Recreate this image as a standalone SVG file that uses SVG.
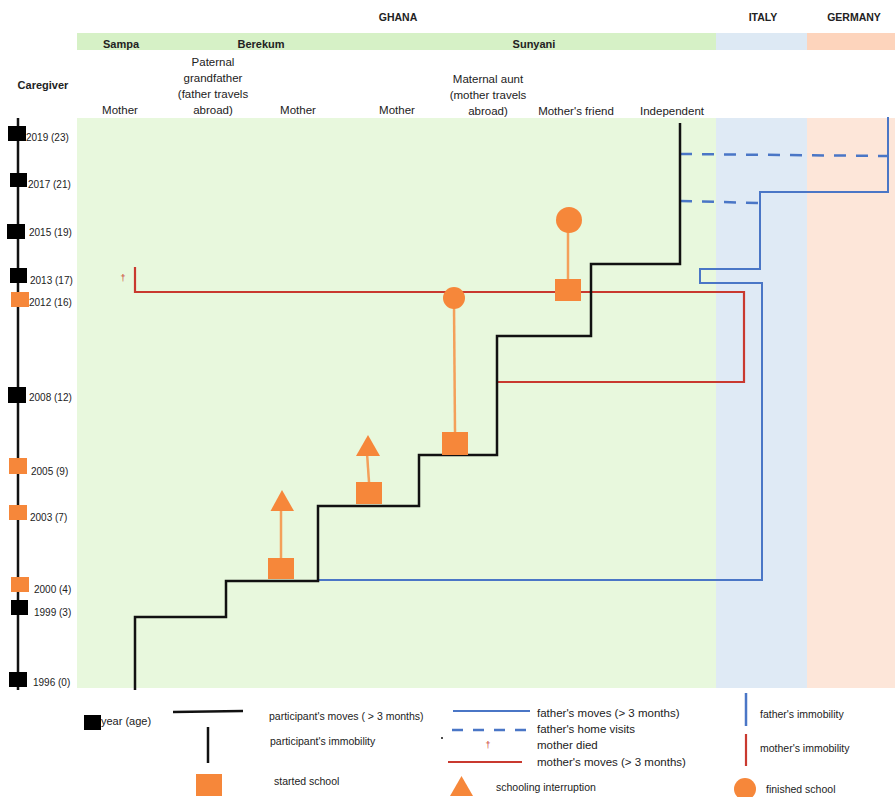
<svg xmlns="http://www.w3.org/2000/svg" width="895" height="797" viewBox="0 0 895 797">
<style>
text{font-family:"Liberation Sans",Arial,sans-serif;fill:#222}
.h{font-weight:bold;font-size:10.5px}
.cg{font-size:11.5px;text-anchor:middle}
.yr{font-size:10px}
.lg{font-size:10.5px}
.lg2{font-size:11.5px}
.blk{fill:#000}
.org{fill:#f6873a}
.oline{stroke:#f4a05a;stroke-width:2.5;fill:none}
.part{stroke:#111;stroke-width:2.5;fill:none;stroke-linejoin:miter}
.fat{stroke:#4a76c6;stroke-width:2;fill:none}
.fatd{stroke:#4a76c6;stroke-width:2.5;fill:none;stroke-dasharray:12 10}
.mot{stroke:#c9392f;stroke-width:2.2;fill:none}
.dag{fill:#c9392f;font-size:9px;text-anchor:middle}
</style>
<!-- backgrounds -->
<g id="backgrounds">
<rect x="77" y="33" width="639" height="17" fill="#d6f1c6"/>
<rect x="716" y="33" width="91" height="17" fill="#dde9f4"/>
<rect x="807" y="33" width="88" height="17" fill="#fdd4bc"/>
<rect x="77" y="118" width="639" height="570" fill="#e8f8dd"/>
<rect x="716" y="118" width="91" height="570" fill="#dfeaf5"/>
<rect x="807" y="118" width="88" height="570" fill="#fde6d9"/>
</g>
<g id="headers">
<text class="h" x="398" y="21" text-anchor="middle">GHANA</text>
<text class="h" x="763" y="21" text-anchor="middle">ITALY</text>
<text class="h" x="854" y="21" text-anchor="middle">GERMANY</text>
<text class="h" x="121" y="48" text-anchor="middle" style="font-size:11px">Sampa</text>
<text class="h" x="261" y="48" text-anchor="middle" style="font-size:11px">Berekum</text>
<text class="h" x="534" y="48" text-anchor="middle" style="font-size:11px">Sunyani</text>
<text class="h" x="43" y="89" text-anchor="middle" style="font-size:11px">Caregiver</text>
</g>
<g id="caregivers">
<text class="cg" x="120" y="114">Mother</text>
<text class="cg" x="213" y="66">Paternal</text>
<text class="cg" x="213" y="82">grandfather</text>
<text class="cg" x="213" y="98">(father travels</text>
<text class="cg" x="213" y="114">abroad)</text>
<text class="cg" x="298" y="114">Mother</text>
<text class="cg" x="397" y="114">Mother</text>
<text class="cg" x="488" y="83">Maternal aunt</text>
<text class="cg" x="488" y="99">(mother travels</text>
<text class="cg" x="488" y="115">abroad)</text>
<text class="cg" x="576" y="115">Mother's friend</text>
<text class="cg" x="672" y="115">Independent</text>
</g>
<!-- timeline -->
<g id="timeline">
<line x1="18" y1="118" x2="18" y2="690" stroke="#111" stroke-width="2.5"/>
<g id="y2019"><rect class="blk" x="8" y="126" width="18" height="15"/><text class="yr" x="26" y="141">2019 (23)</text></g>
<g id="y2017"><rect class="blk" x="10" y="173" width="17" height="14"/><text class="yr" x="28" y="188">2017 (21)</text></g>
<g id="y2015"><rect class="blk" x="7" y="224" width="18" height="15"/><text class="yr" x="29" y="236">2015 (19)</text></g>
<g id="y2013"><rect class="blk" x="10" y="268" width="17" height="15"/><text class="yr" x="30" y="284">2013 (17)</text></g>
<g id="y2012"><rect class="org" x="11" y="292" width="18" height="15"/><text class="yr" x="29" y="306">2012 (16)</text></g>
<g id="y2008"><rect class="blk" x="8" y="387" width="18" height="16"/><text class="yr" x="29" y="401">2008 (12)</text></g>
<g id="y2005"><rect class="org" x="9" y="458" width="18" height="16"/><text class="yr" x="31" y="475">2005 (9)</text></g>
<g id="y2003"><rect class="org" x="9" y="505" width="18" height="15"/><text class="yr" x="30" y="521">2003 (7)</text></g>
<g id="y2000"><rect class="org" x="11" y="577" width="18" height="15"/><text class="yr" x="34" y="593">2000 (4)</text></g>
<g id="y1999"><rect class="blk" x="11" y="600" width="17" height="15"/><text class="yr" x="34" y="616">1999 (3)</text></g>
<g id="y1996"><rect class="blk" x="9" y="672" width="18" height="15"/><text class="yr" x="33" y="686">1996 (0)</text></g>
</g>
<g id="connectors">
<path class="mot" d="M135,267 V292 H744 V382 H497"/>
<path class="fat" d="M318,580 H762 V283 H700 V269 H760 V192 H888 V117"/>
<path class="fatd" d="M680,154 L888,156"/>
<path class="fatd" d="M680,201 L759,203"/>
<path class="part" d="M135,690 V617 H226 V581 H318 V506 H419 V455 H497 V336 H591 V264 H680 V123"/>
<line class="oline" x1="281" y1="558" x2="281" y2="508"/>
<line class="oline" x1="369" y1="482" x2="367" y2="453"/>
<line class="oline" x1="455" y1="432" x2="454" y2="305"/>
<line class="oline" x1="568" y1="279" x2="568" y2="230"/>
</g>
<g id="mother-died"><text class="dag" x="123" y="281">†</text></g>
<g id="school1"><rect class="org" x="268" y="558" width="26" height="21"/><polygon class="org" points="282,490 270.5,511 294,511"/></g>
<g id="school2"><rect class="org" x="356" y="482" width="26" height="22"/><polygon class="org" points="368,435 356,456 380,456"/></g>
<g id="school3"><rect class="org" x="442" y="432" width="26" height="23"/><circle class="org" cx="454" cy="298" r="11"/></g>
<g id="school4"><rect class="org" x="555" y="279" width="26" height="22"/><circle class="org" cx="569" cy="220" r="13"/></g>
<!-- legend -->
<g id="legend">
<rect class="blk" x="84" y="715" width="17" height="15"/>
<text class="lg" x="101" y="725" style="font-size:11px">year (age)</text>
<line x1="173" y1="712" x2="243" y2="711" stroke="#111" stroke-width="2.5"/>
<text class="lg" x="269" y="720">participant's moves ( &gt; 3 months)</text>
<line x1="208" y1="727" x2="208" y2="763" stroke="#111" stroke-width="2.5"/>
<text class="lg" x="270" y="745">participant's immobility</text>
<rect class="org" x="196" y="774" width="26" height="22"/>
<text class="lg" x="274" y="785">started school</text>
<line class="fat" x1="453" y1="711" x2="530" y2="711"/>
<text class="lg2" x="537" y="717">father's moves (&gt; 3 months)</text>
<line class="fatd" x1="452" y1="730" x2="530" y2="730" style="stroke-dasharray:11 10"/>
<text class="lg2" x="537" y="733">father's home visits</text>
<circle cx="442" cy="738" r="1" fill="#111"/>
<text class="dag" x="488" y="748">†</text>
<text class="lg2" x="537" y="749">mother died</text>
<line class="mot" x1="448" y1="762" x2="522" y2="762"/>
<text class="lg2" x="537" y="766">mother's moves (&gt; 3 months)</text>
<polygon class="org" points="461.5,776 450,796 473,796"/>
<text class="lg" x="496" y="791">schooling interruption</text>
<line class="fat" x1="746" y1="693" x2="746" y2="726" style="stroke-width:2.5"/>
<text class="lg" x="760" y="718">father's immobility</text>
<line class="mot" x1="746" y1="734" x2="746" y2="766"/>
<text class="lg" x="760" y="752">mother's immobility</text>
<circle class="org" cx="745" cy="789" r="11"/>
<text class="lg" x="766" y="793">finished school</text>
</g>
</svg>
